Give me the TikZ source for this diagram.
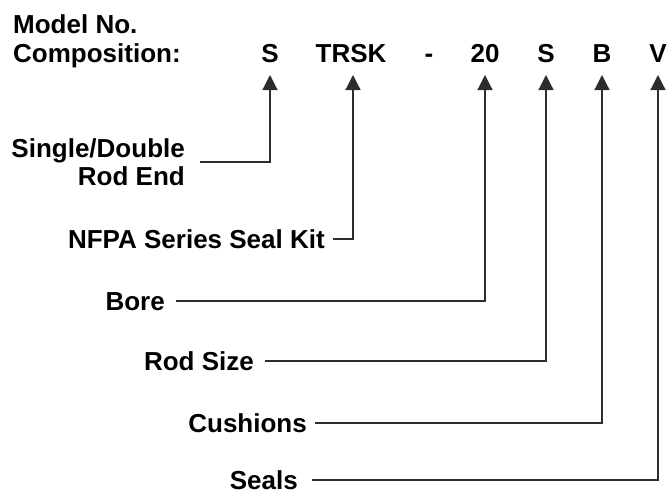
\documentclass[tikz,border=0pt]{standalone}
\usepackage{fontspec}
\setmainfont{Liberation Sans}
\usepackage{tikz}
\usetikzlibrary{arrows.meta,positioning}
\definecolor{ink}{RGB}{0,0,0}
\definecolor{wire}{RGB}{45,45,45}

\begin{document}
\begin{tikzpicture}[x=1pt,y=-1pt,
    lbl/.style={font=\fontsize{26}{28}\selectfont\bfseries,inner sep=0pt,text=ink},
    tag/.style={lbl,text height=18.6pt,text depth=0pt,anchor=east},
    code/.style={lbl,anchor=base},
    lead/.style={wire,line width=1.2pt,shorten <=11pt},
    pointer/.style={lead,-{Triangle[length=15pt,width=15pt]}}]

    \useasboundingbox (0,0) rectangle (669,495);

    % Heading
    \node[lbl,anchor=base west] (model) at (13,34) {Model No.};
    \node[lbl,anchor=base west] (comp) at (13,63) {Composition:};

    % Code letters
    \node[code] (rodend) at (270,63) {S};
    \node[code] (kit) at (351,63) {TRSK};
    \node[code] (dash) at (429,63) {-};
    \node[code] (bsize) at (485,63) {20};
    \node[code] (rsize) at (546,63) {S};
    \node[code] (cush) at (602,63) {B};
    \node[code] (seal) at (658,63) {V};

    % Descriptions
    \node[lbl,anchor=east,align=right] (single) at (185,162) {Single/Double\\Rod End};
    \node[tag] (nfpa) at (325,239) {NFPA Series Seal Kit};
    \node[tag] (bore) at (165,301) {Bore};
    \node[tag] (rodsize) at (254,361) {Rod Size};
    \node[tag] (cushions) at (307,423) {Cushions};
    \node[tag] (seals) at (298,480) {Seals};

    % Leader lines
    \draw[pointer,shorten <=15pt] (single.east) -| ([yshift=-12pt]rodend.base);
    \draw[pointer,shorten <=8pt] (nfpa.east) -| ([xshift=2pt,yshift=-12pt]kit.base);
    \draw[pointer] (bore.east) -| ([yshift=-12pt]bsize.base);
    \draw[pointer] (rodsize.east) -| ([yshift=-12pt]rsize.base);
    \draw[pointer,shorten <=8pt] (cushions.east) -| ([yshift=-12pt]cush.base);
    \draw[pointer,shorten <=14pt] (seals.east) -| ([yshift=-12pt]seal.base);

\end{tikzpicture}
\end{document}
